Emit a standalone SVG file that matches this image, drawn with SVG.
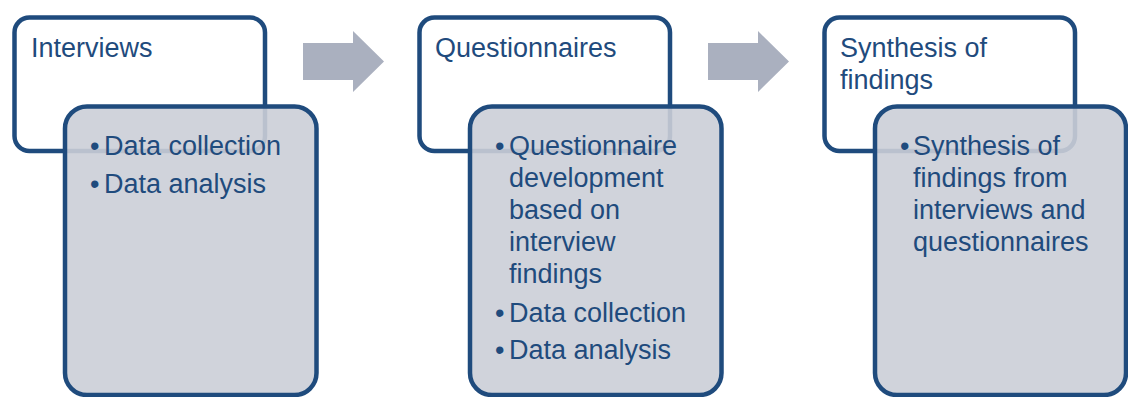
<svg xmlns="http://www.w3.org/2000/svg" width="1128" height="397" viewBox="0 0 1128 397">
<style>
.top{fill:#ffffff;stroke:#1f4b7d;stroke-width:4.5}
.sub{fill:#cbced7;fill-opacity:0.9;stroke:#1f4b7d;stroke-width:4.5}
.arr{fill:#aab0bf}
text{font-family:"Liberation Sans",Arial,sans-serif;font-size:27px;fill:#1f4b7d}
</style>
<rect width="1128" height="397" fill="#ffffff"/>
<g id="connectors">
<polygon class="arr" points="303,43 353,43 353,31 384,61.5 353,92 353,80 303,80"/>
<polygon class="arr" points="708,43 758,43 758,31 789,61.5 758,92 758,80 708,80"/>
</g>
<g id="interviews">
<rect class="top" x="14.5" y="17.5" width="250.5" height="133.5" rx="15"/>
<text x="31" y="57">Interviews</text>
<rect class="sub" x="65" y="106.5" width="251.5" height="288.5" rx="22"/>
<text x="90" y="155">•</text><text x="104" y="155">Data collection</text>
<text x="90" y="193">•</text><text x="104" y="193">Data analysis</text>
</g>
<g id="questionnaires">
<rect class="top" x="419.5" y="17.5" width="250.5" height="133.5" rx="15"/>
<text x="435" y="57">Questionnaires</text>
<rect class="sub" x="470" y="106.5" width="251.5" height="288.5" rx="22"/>
<text x="495" y="155">•</text><text x="509" y="155">Questionnaire</text>
<text x="509" y="187">development</text>
<text x="509" y="219">based on</text>
<text x="509" y="251">interview</text>
<text x="509" y="283">findings</text>
<text x="495" y="322">•</text><text x="509" y="322">Data collection</text>
<text x="495" y="359">•</text><text x="509" y="359">Data analysis</text>
</g>
<g id="synthesis">
<rect class="top" x="824.5" y="17.5" width="250.5" height="133.5" rx="15"/>
<text x="840" y="57">Synthesis of</text>
<text x="840" y="89">findings</text>
<rect class="sub" x="875" y="106.5" width="251" height="288.5" rx="22"/>
<text x="900" y="155">•</text><text x="913" y="155">Synthesis of</text>
<text x="913" y="187">findings from</text>
<text x="913" y="219">interviews and</text>
<text x="913" y="251">questionnaires</text>
</g>
</svg>
